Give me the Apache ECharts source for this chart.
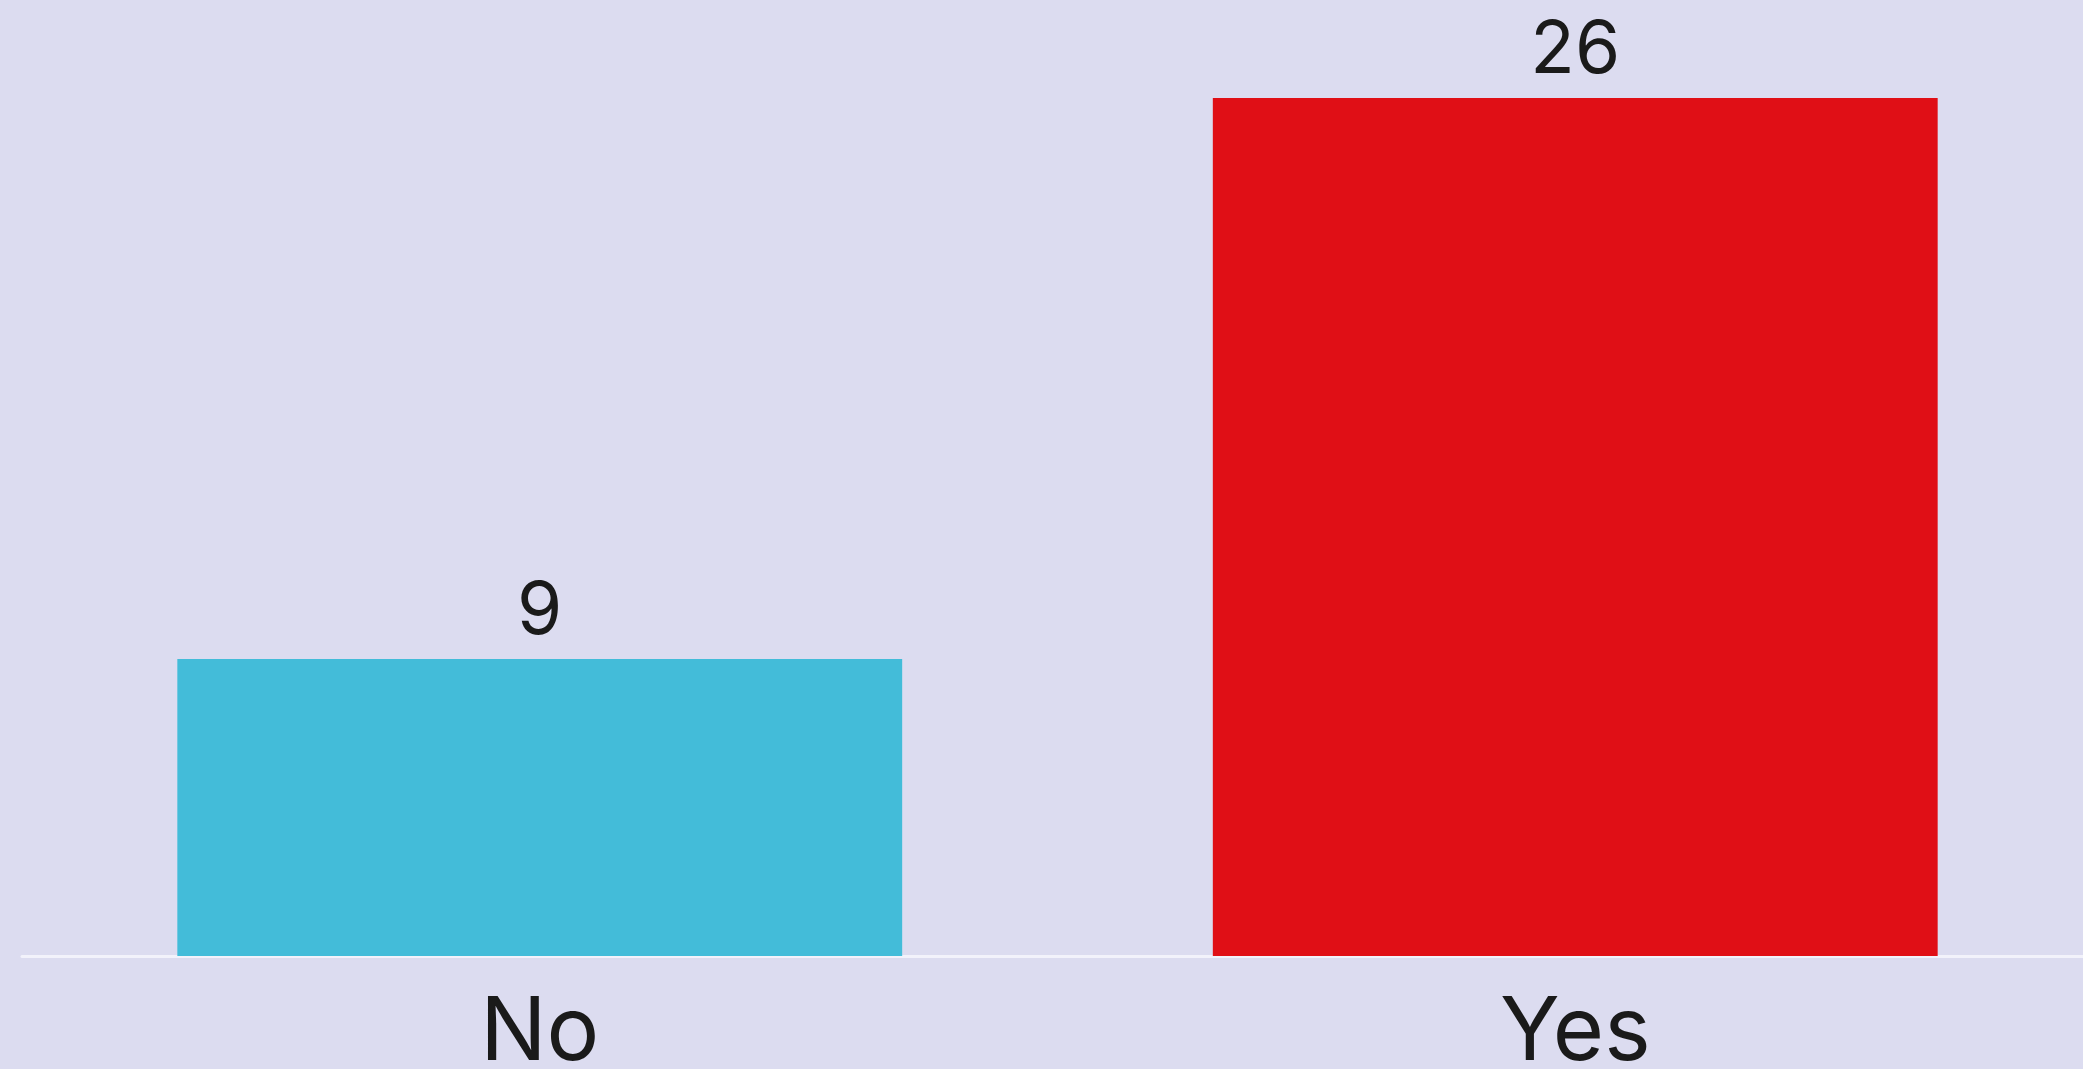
<!DOCTYPE html>
<html><head><meta charset="utf-8">
<script src="https://cdn.jsdelivr.net/npm/echarts@6/dist/echarts.min.js"></script>
<style>html,body{margin:0;padding:0;background:#dcdcf0;}#c{width:2083px;height:1069px;}</style>
</head><body><div id="c"></div>
<script>
const categories = ['No', 'Yes'];
const values = [9, 26];
const colors = ['#43bcd9', '#e00f16'];

const chart = echarts.init(document.getElementById('c'));
chart.setOption({
  backgroundColor: '#dcdcf0',
  animation: false,
  grid: { left: 22, right: -10, top: 32, bottom: 113, containLabel: false, outerBoundsMode: 'none' },
  xAxis: {
    type: 'category',
    data: categories,
    axisLine: { show: true, lineStyle: { color: '#f2f2fb', width: 3 } },
    axisTick: { show: false },
    axisLabel: { color: '#1a1a1a', fontSize: 88, fontFamily: 'Inter, Roboto, sans-serif', margin: 34 }
  },
  yAxis: {
    type: 'value', min: 0, max: 28,
    show: false, splitLine: { show: false }
  },
  series: [{
    type: 'bar',
    barCategoryGap: '30%',
    data: values.map((v, i) => ({ value: v, itemStyle: { color: colors[i] } })),
    label: { show: true, position: 'top', distance: 10, color: '#1a1a1a', fontSize: 73, fontFamily: 'Inter, Roboto, sans-serif' }
  }]
});
</script></body></html>
